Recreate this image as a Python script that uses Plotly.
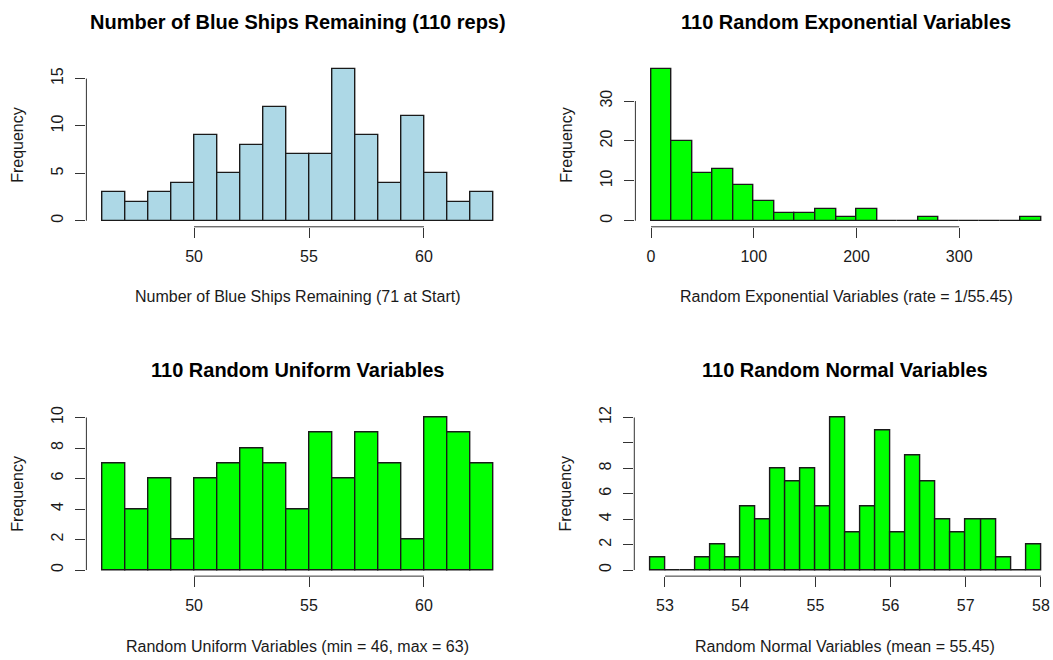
import numpy as np
import plotly.graph_objects as go

W, H = 1053, 660

# ---------------- data ----------------
ships_breaks = [46, 47, 48, 49, 50, 51, 52, 53, 54, 55, 56, 57, 58, 59, 60, 61, 62, 63]
ships_counts = [3, 2, 3, 4, 9, 5, 8, 12, 7, 7, 16, 9, 4, 11, 5, 2, 3]

exp_breaks = [0, 20, 40, 60, 80, 100, 120, 140, 160, 180, 200, 220, 240, 260, 280,
              300, 320, 340, 360, 380]
exp_counts = [38, 20, 12, 13, 9, 5, 2, 2, 3, 1, 3, 0, 0, 1, 0, 0, 0, 0, 1]

unif_breaks = [46, 47, 48, 49, 50, 51, 52, 53, 54, 55, 56, 57, 58, 59, 60, 61, 62, 63]
unif_counts = [7, 4, 6, 2, 6, 7, 8, 7, 4, 9, 6, 9, 7, 2, 10, 9, 7]

norm_breaks = [52.8, 53.0, 53.2, 53.4, 53.6, 53.8, 54.0, 54.2, 54.4, 54.6, 54.8, 55.0,
               55.2, 55.4, 55.6, 55.8, 56.0, 56.2, 56.4, 56.6, 56.8, 57.0, 57.2, 57.4,
               57.6, 57.8, 58.0]
norm_counts = [1, 0, 0, 1, 2, 1, 5, 4, 8, 7, 8, 5, 12, 3, 5, 11, 3, 9, 7, 4, 3, 4, 4, 1, 0, 2]

titles = ["Number of Blue Ships Remaining (110 reps)",
          "110 Random Exponential Variables",
          "110 Random Uniform Variables",
          "110 Random Normal Variables"]
xlabels = ["Number of Blue Ships Remaining (71 at Start)",
           "Random Exponential Variables (rate = 1/55.45)",
           "Random Uniform Variables (min = 46, max = 63)",
           "Random Normal Variables (mean = 55.45)"]
ylabel = "Frequency"

x_ticks = [[50, 55, 60], [0, 100, 200, 300], [50, 55, 60], [53, 54, 55, 56, 57, 58]]
y_ticks = [[0, 5, 10, 15], [0, 10, 20, 30], [0, 2, 4, 6, 8, 10], [0, 2, 4, 6, 8, 10, 12]]
y_ticktext = [["0", "5", "10", "15"], ["0", "10", "20", "30"],
              ["0", "2", "4", "6", "8", "10"], ["0", "2", "4", "6", "8", "", "12"]]

colors = ["#ADD8E6", "#00FF00", "#00FF00", "#00FF00"]

# ---------------- layout helpers (pixels) ----------------
def px(x):
    return x / W

def py(y):
    return 1 - y / H

FONT = "Liberation Sans, Arial, sans-serif"
TXT = "#1a1a1a"
AX = "#333333"

# plot regions in pixels: (left, right, top, bottom)
regions = [(86.4, 508.6, 58.5, 223.5),
           (635.4, 1057.0, 58.5, 223.5),
           (86.4, 508.6, 409.5, 575.5),
           (634.3, 1056.6, 409.5, 575.5)]

breaks_all = [ships_breaks, exp_breaks, unif_breaks, norm_breaks]
counts_all = [ships_counts, exp_counts, unif_counts, norm_counts]

fig = go.Figure()
annotations = []
shapes = []

for i in range(4):
    br = np.array(breaks_all[i], dtype=float)
    ct = np.array(counts_all[i], dtype=float)
    centers = (br[:-1] + br[1:]) / 2
    widths = br[1:] - br[:-1]
    xa = "x" if i == 0 else f"x{i+1}"
    ya = "y" if i == 0 else f"y{i+1}"
    fig.add_trace(go.Bar(x=centers, y=ct, width=widths, xaxis=xa, yaxis=ya,
                         marker=dict(color=colors[i], line=dict(color="#1a1a1a", width=1.4)),
                         showlegend=False, hoverinfo="x+y"))

    l, r, t, b = regions[i]
    xmin, xmax = br[0], br[-1]
    pad = 0.04 * (xmax - xmin)
    x0r, x1r = xmin - pad, xmax + pad
    # clip right side to the visible window
    scale = (r - l) / (x1r - x0r)
    if r > W:
        x1r = x0r + (W - l) / scale
        r = W
    ymax = ct.max()
    yr = [-0.04 * ymax, 1.04 * ymax]

    axis_common = dict(showgrid=False, zeroline=False, showline=False,
                       ticks="outside", ticklen=10, tickwidth=1, tickcolor=AX,
                       tickfont=dict(family=FONT, size=16, color=TXT))
    fig.layout[f"xaxis{'' if i == 0 else i+1}"] = dict(
        domain=[px(l), px(r)], range=[x0r, x1r], anchor=ya,
        tickmode="array", tickvals=x_ticks[i], ticktext=[str(v) for v in x_ticks[i]],
        ticklabelstandoff=5, **axis_common)
    fig.layout[f"yaxis{'' if i == 0 else i+1}"] = dict(
        domain=[py(b), py(t)], range=yr, anchor=xa,
        tickmode="array", tickvals=y_ticks[i], ticktext=y_ticktext[i],
        tickangle=-90, ticklabelstandoff=6, **axis_common)

    # axis lines spanning first..last tick (R style)
    shapes.append(dict(type="line", xref=xa, yref=f"{ya} domain",
                       x0=x_ticks[i][0], x1=x_ticks[i][-1], y0=0, y1=0,
                       line=dict(color=AX, width=1)))
    shapes.append(dict(type="line", xref=f"{xa} domain", yref=ya,
                       x0=0, x1=0, y0=y_ticks[i][0], y1=y_ticks[i][-1],
                       line=dict(color=AX, width=1)))

    lo, ro, to, bo = regions[i]
    cx = (lo + ro) / 2
    annotations.append(dict(text=f"<b>{titles[i]}</b>", xref="paper", yref="paper",
                            x=px(cx), y=py(t - 41.5), xanchor="center", yanchor="middle",
                            showarrow=False, font=dict(family=FONT, size=20, color="#000000")))
    annotations.append(dict(text=xlabels[i], xref="paper", yref="paper",
                            x=px(cx), y=py(b + 70.5), xanchor="center", yanchor="middle",
                            showarrow=False, font=dict(family=FONT, size=16, color=TXT)))
    annotations.append(dict(text=ylabel, xref="paper", yref="paper",
                            x=px(lo - 68.5), y=py((t + b) / 2), xanchor="center", yanchor="middle",
                            textangle=-90, showarrow=False,
                            font=dict(family=FONT, size=16, color=TXT)))

fig.update_layout(width=W, height=H, autosize=False,
                  margin=dict(l=0, r=0, t=0, b=0),
                  paper_bgcolor="white", plot_bgcolor="white",
                  bargap=0, annotations=annotations, shapes=shapes)

fig.write_html("out.html")
